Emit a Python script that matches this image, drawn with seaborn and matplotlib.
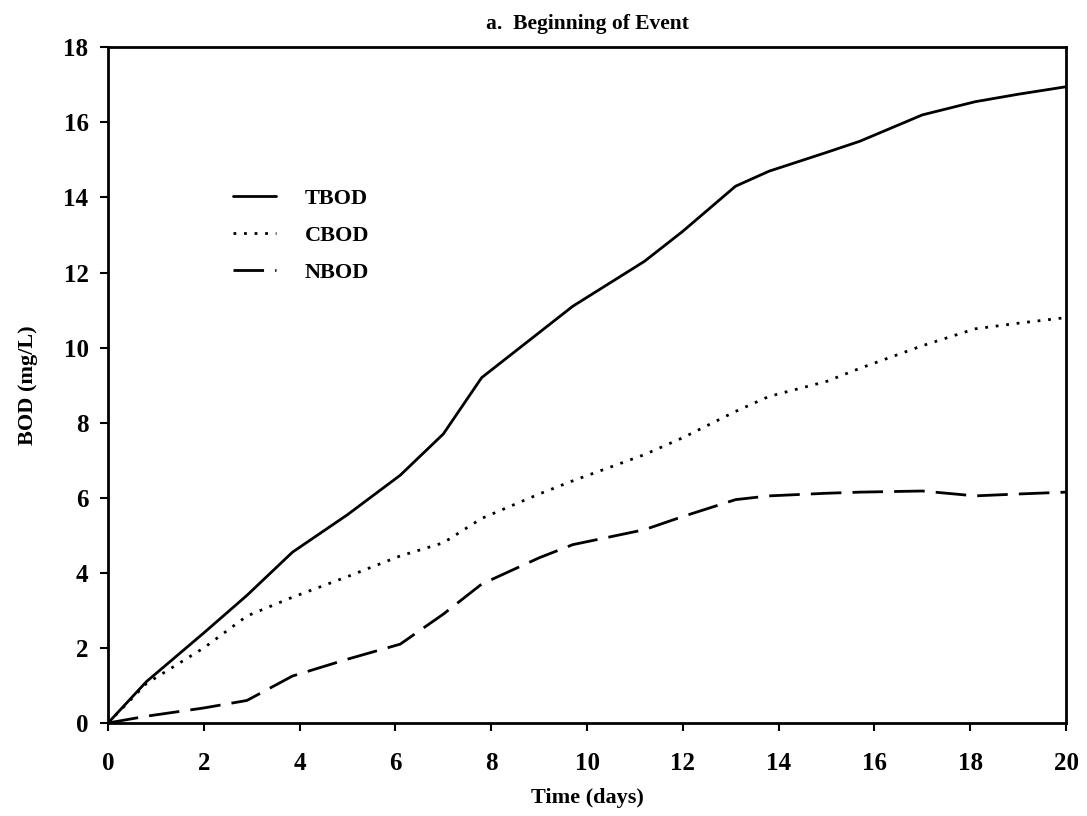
import matplotlib
matplotlib.use("Agg")
import matplotlib.pyplot as plt
import seaborn as sns
import pandas as pd

time_days = [0, 0.8, 2, 2.9, 3.85, 5, 6.1, 7, 7.8, 9, 9.7, 11.2, 12, 13.1, 13.8, 15, 15.7, 17, 18.1, 19, 20]
tbod = [0, 1.1, 2.4, 3.4, 4.55, 5.55, 6.6, 7.7, 9.2, 10.4, 11.1, 12.3, 13.1, 14.3, 14.7, 15.2, 15.5, 16.2, 16.55, 16.75, 16.95]
cbod = [0, 1.05, 2.0, 2.85, 3.35, 3.9, 4.45, 4.8, 5.45, 6.1, 6.45, 7.15, 7.6, 8.3, 8.7, 9.1, 9.45, 10.05, 10.5, 10.65, 10.8]
nbod = [0, 0.18, 0.4, 0.6, 1.25, 1.7, 2.1, 2.9, 3.7, 4.4, 4.75, 5.15, 5.5, 5.95, 6.05, 6.12, 6.15, 6.18, 6.05, 6.1, 6.15]

x_ticks = list(range(0, 21, 2))
y_ticks = list(range(0, 19, 2))

sns.set_style("ticks")
plt.rcParams['font.family'] = ['Liberation Serif', 'DejaVu Serif']
plt.rcParams['text.color'] = 'black'
plt.rcParams['axes.labelcolor'] = 'black'
plt.rcParams['xtick.color'] = 'black'
plt.rcParams['ytick.color'] = 'black'

fig = plt.figure(figsize=(10.87, 8.16), dpi=100)
ax = fig.add_axes([0.0994, 0.114, 0.8813, 0.828])

sns.lineplot(x=time_days, y=tbod, ax=ax, color='black', linewidth=2, linestyle='-', label='TBOD')
sns.lineplot(x=time_days, y=cbod, ax=ax, color='black', linewidth=2, linestyle=(0, (1, 2.8)), label='CBOD')
sns.lineplot(x=time_days, y=nbod, ax=ax, color='black', linewidth=2, linestyle=(0, (11, 4)), label='NBOD')

ax.set_xlim(0, 20)
ax.set_ylim(0, 18)
ax.set_xticks(x_ticks)
ax.set_yticks(y_ticks)
ax.tick_params(axis='both', direction='out', length=6, width=1.5, labelsize=18, colors='black')
ax.tick_params(axis='x', pad=15)
ax.tick_params(axis='y', pad=8)
for lbl in ax.get_xticklabels() + ax.get_yticklabels():
    lbl.set_fontweight('bold')
for side in ['top', 'right', 'bottom', 'left']:
    ax.spines[side].set_visible(True)
    ax.spines[side].set_linewidth(2)
    ax.spines[side].set_color('black')

ax.set_xlabel('Time (days)', fontsize=16, fontweight='bold', labelpad=9)
ax.set_ylabel('BOD (mg/L)', fontsize=16, fontweight='bold', labelpad=18)
ax.set_title('a.  Beginning of Event', fontsize=15.5, fontweight='bold', pad=13)

leg = ax.legend(loc='upper left', bbox_to_anchor=(0.11, 0.821), frameon=False,
                fontsize=16, handlelength=1.9, labelspacing=0.75, handletextpad=1.3)
for t in leg.get_texts():
    t.set_fontweight('bold')

fig.savefig('out.png', dpi=100)
